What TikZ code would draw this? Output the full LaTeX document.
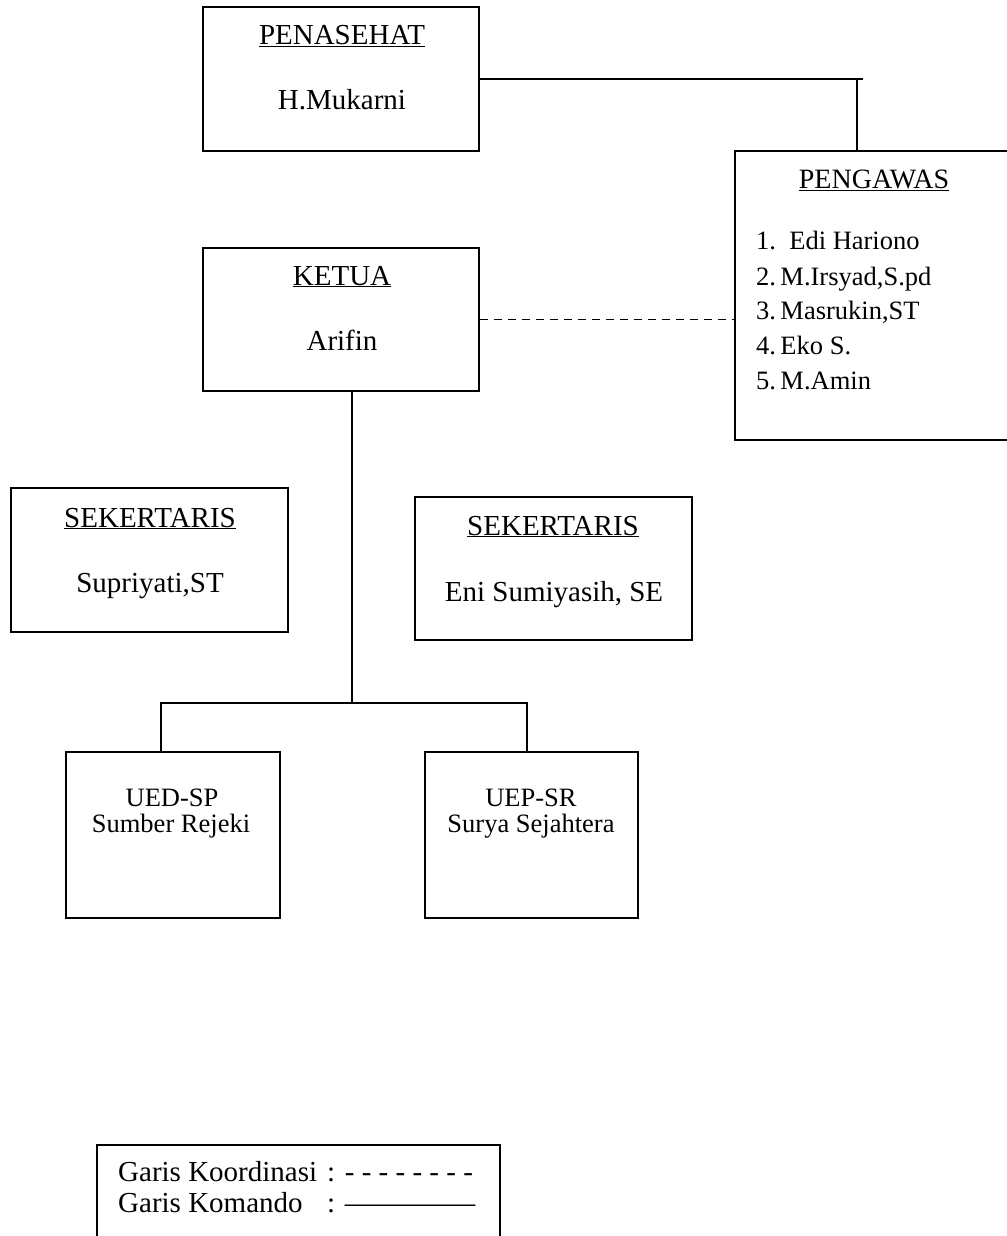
\documentclass[tikz,border=0pt]{standalone}
\usepackage{fontspec}
\setmainfont{Liberation Serif}
\begin{document}
\begin{tikzpicture}[x=1pt,y=-1pt,
  box/.style={draw,line width=1.9pt,rectangle,inner sep=0pt},
  big/.style={font=\fontsize{29}{32}\selectfont,anchor=base,inner sep=0pt},
  mid/.style={font=\fontsize{26.5}{29}\selectfont,anchor=base,inner sep=0pt},
  wire/.style={line width=1.9pt},
  coord/.style={line width=1.7pt,dash pattern=on 8pt off 6pt}]
\useasboundingbox (0,0) rectangle (1006,1236);

% boxes
\node[box,minimum width=276pt,minimum height=144pt] (pen) at (341,79) {};
\node[box,minimum width=276pt,minimum height=143pt] (ket) at (341,319.5) {};
\node[box,minimum width=277pt,minimum height=289pt] (peng) at (873.5,295.5) {};
\node[box,minimum width=277pt,minimum height=144pt] (sekA) at (149.5,560) {};
\node[box,minimum width=277pt,minimum height=143pt] (sekB) at (553.5,568.5) {};
\node[box,minimum width=214pt,minimum height=166pt] (ued) at (173,835) {};
\node[box,minimum width=213pt,minimum height=166pt] (uep) at (531.5,835) {};
\node[box,minimum width=403pt,minimum height=145pt] (leg) at (298.5,1217.5) {};

% texts
\node[big] (penT) at (342,45) {\underline{PENASEHAT}};
\node[big] (penN) at (342,110) {H.Mukarni};
\node[big] (ketT) at (342,285) {\underline{KETUA}};
\node[big] (ketN) at (342,350) {Arifin};
\node[big] (sekAT) at (150,527) {\underline{SEKERTARIS}};
\node[big] (sekAN) at (150,592) {Supriyati,ST};
\node[big] (sekBT) at (553,535) {\underline{SEKERTARIS}};
\node[big] (sekBN) at (554,601) {Eni Sumiyasih, SE};
\node[mid] (uedT) at (172,806) {UED-SP};
\node[mid] (uedN) at (171,832) {Sumber Rejeki};
\node[mid] (uepT) at (531,806) {UEP-SR};
\node[mid] (uepN) at (531,832) {Surya Sejahtera};
\node[mid,font=\fontsize{28}{30}\selectfont] (pengT) at (874,188) {\underline{PENGAWAS}};
\node[mid,anchor=base west] (p1) at (756,249) {1.\ \ Edi Hariono};
\node[mid,anchor=base west] (p2) at (756,285) {2.\,M.Irsyad,S.pd};
\node[mid,anchor=base west] (p3) at (756,319) {3.\,Masrukin,ST};
\node[mid,anchor=base west] (p4) at (756,354) {4.\,Eko S.};
\node[mid,anchor=base west] (p5) at (756,389) {5.\,M.Amin};
\node[big,anchor=base west] (legA) at (118,1181)
  {\makebox[209pt][l]{Garis Koordinasi}: - - - - - - - -};
\node[big,anchor=base west] (legB) at (118,1212)
  {\makebox[209pt][l]{Garis Komando}: ————–};

% command lines
\coordinate (jtop) at (857,79);
\coordinate (jend) at (863,79);
\draw[wire] (pen.east) -- (jend);
\draw[wire] (jtop) -- (jtop |- peng.north);

\coordinate (bus) at (352,703);
\coordinate (busL) at (161,703);
\coordinate (busR) at (527,703);
\draw[wire] (bus |- ket.south) -- (bus);
\draw[wire] (busL |- ued.north) -- (busL) -- (busR) -- (busR |- uep.north);

% coordination line
\draw[coord] (ket.east) -- (ket.east -| peng.west);
\end{tikzpicture}
\end{document}
